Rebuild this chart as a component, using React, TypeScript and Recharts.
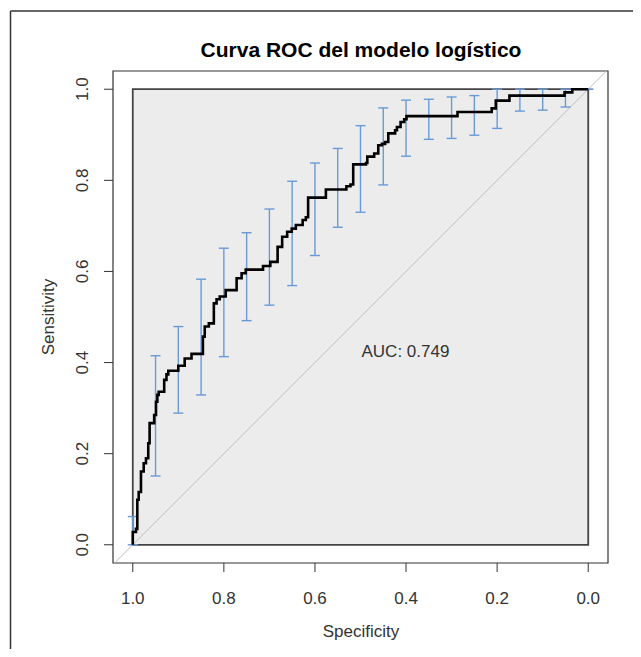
import { ComposedChart, Scatter, XAxis, YAxis, ReferenceArea, ReferenceLine, ErrorBar } from 'recharts';

// ROC curve points (specificity, sensitivity), in threshold order
const specificity = [
  1.0, 1.0, 0.993, 0.993, 0.99, 0.99, 0.987, 0.987, 0.982, 0.982,
  0.976, 0.976, 0.971, 0.971, 0.966, 0.966, 0.963, 0.963, 0.953, 0.953,
  0.949, 0.949, 0.946, 0.946, 0.943, 0.943, 0.931, 0.931, 0.926, 0.926,
  0.922, 0.922, 0.9, 0.9, 0.886, 0.886, 0.871, 0.871, 0.846, 0.846,
  0.842, 0.842, 0.833, 0.833, 0.822, 0.822, 0.816, 0.816, 0.809, 0.809,
  0.796, 0.796, 0.772, 0.772, 0.761, 0.761, 0.752, 0.752, 0.714, 0.714,
  0.698, 0.698, 0.682, 0.682, 0.672, 0.672, 0.661, 0.661, 0.651, 0.651,
  0.642, 0.642, 0.627, 0.627, 0.62, 0.62, 0.615, 0.615, 0.576, 0.576,
  0.531, 0.531, 0.522, 0.522, 0.516, 0.516, 0.488, 0.488, 0.485, 0.485,
  0.47, 0.47, 0.461, 0.461, 0.453, 0.453, 0.446, 0.446, 0.439, 0.439,
  0.424, 0.424, 0.42, 0.42, 0.412, 0.412, 0.404, 0.404, 0.399, 0.399,
  0.287, 0.287, 0.212, 0.212, 0.203, 0.203, 0.173, 0.173, 0.052, 0.052,
  0.035, 0.035, 0.0,
];
const sensitivity = [
  0.0, 0.028, 0.028, 0.035, 0.035, 0.099, 0.099, 0.116, 0.116, 0.161,
  0.161, 0.179, 0.179, 0.19, 0.19, 0.223, 0.223, 0.267, 0.267, 0.285,
  0.285, 0.314, 0.314, 0.329, 0.329, 0.336, 0.336, 0.362, 0.362, 0.374,
  0.374, 0.382, 0.382, 0.393, 0.393, 0.409, 0.409, 0.419, 0.419, 0.457,
  0.457, 0.479, 0.479, 0.486, 0.486, 0.53, 0.53, 0.539, 0.539, 0.545,
  0.545, 0.559, 0.559, 0.585, 0.585, 0.596, 0.596, 0.604, 0.604, 0.612,
  0.612, 0.621, 0.621, 0.654, 0.654, 0.676, 0.676, 0.687, 0.687, 0.694,
  0.694, 0.702, 0.702, 0.713, 0.713, 0.719, 0.719, 0.762, 0.762, 0.78,
  0.78, 0.787, 0.787, 0.791, 0.791, 0.835, 0.835, 0.838, 0.838, 0.852,
  0.852, 0.859, 0.859, 0.877, 0.877, 0.88, 0.88, 0.884, 0.884, 0.903,
  0.903, 0.91, 0.91, 0.917, 0.917, 0.928, 0.928, 0.934, 0.934, 0.941,
  0.941, 0.95, 0.95, 0.958, 0.958, 0.975, 0.975, 0.986, 0.986, 0.993,
  0.993, 1.0, 1.0,
];

// confidence interval of sensitivity at fixed specificities
const ciSpecificity = [1.0, 0.95, 0.9, 0.85, 0.8, 0.75, 0.7, 0.65, 0.6, 0.55, 0.5, 0.45, 0.4, 0.35, 0.3, 0.25, 0.2, 0.15, 0.1, 0.05, 0.0];
const ciLower = [0.0, 0.151, 0.289, 0.329, 0.413, 0.492, 0.526, 0.569, 0.635, 0.697, 0.73, 0.79, 0.853, 0.89, 0.892, 0.899, 0.914, 0.952, 0.954, 0.961, 1.0];
const ciUpper = [0.062, 0.415, 0.479, 0.583, 0.651, 0.685, 0.737, 0.798, 0.838, 0.87, 0.92, 0.959, 0.976, 0.978, 0.983, 0.986, 1.0, 1.0, 1.0, 1.0, 1.0];

const xTicks = [1, 0.8, 0.6, 0.4, 0.2, 0];
const yTicks = [0, 0.2, 0.4, 0.6, 0.8, 1];

const title = 'Curva ROC del modelo logístico';
const xLabel = 'Specificity';
const yLabel = 'Sensitivity';
const aucLabel = 'AUC: 0.749';

const FONT = '"Liberation Sans", Arial, sans-serif';
const CI_COLOR = '#6a9ad6';

const curveData = specificity.map((s, i) => ({ spec: s, sens: sensitivity[i] }));
const ciData = ciSpecificity.map((s, i) => ({ spec: s, sens: ciLower[i], err: [0, ciUpper[i] - ciLower[i]] }));

const X_DOMAIN: [number, number] = [-0.0434, 1.0434];
const Y_DOMAIN: [number, number] = [-0.04, 1.04];

const XTick = (props: any) => (
  <text x={props.x} y={596} textAnchor="middle" fontSize={17} fontFamily={FONT} fill="#333">
    {Number(props.payload.value).toFixed(1)}
  </text>
);

const YTick = (props: any) => (
  <text
    x={80}
    y={props.y}
    transform={`rotate(-90, 80, ${props.y})`}
    textAnchor="middle"
    fontSize={17}
    fontFamily={FONT}
    fill="#333"
  >
    {Number(props.payload.value).toFixed(1)}
  </text>
);

const Empty = () => <g />;

export default function App() {
  return (
    <div style={{ position: 'relative', width: 625, height: 641, background: '#fff' }}>
      <ComposedChart width={625} height={641} margin={{ top: 63, right: 25, bottom: 0, left: 0 }}>
        <XAxis
          type="number"
          dataKey="spec"
          domain={X_DOMAIN}
          reversed
          allowDataOverflow
          ticks={xTicks}
          interval={0}
          height={86}
          tickSize={9}
          tickMargin={0}
          axisLine={false}
          tickLine={{ stroke: '#333' }}
          tick={XTick}
        />
        <YAxis
          type="number"
          dataKey="sens"
          domain={Y_DOMAIN}
          allowDataOverflow
          ticks={yTicks}
          interval={0}
          width={105}
          tickSize={9}
          tickMargin={0}
          axisLine={false}
          tickLine={{ stroke: '#333' }}
          tick={YTick}
        />
        <ReferenceArea
          x1={X_DOMAIN[0]}
          x2={X_DOMAIN[1]}
          y1={Y_DOMAIN[0]}
          y2={Y_DOMAIN[1]}
          fill="#fff"
          fillOpacity={0}
          stroke="#333"
          strokeWidth={1.2}
          ifOverflow="visible"
        />
        <ReferenceArea x1={0} x2={1} y1={0} y2={1} fill="#ececec" fillOpacity={1} stroke="#444" strokeWidth={1.8} ifOverflow="visible" />
        <ReferenceLine
          segment={[{ x: 1.04, y: -0.04 }, { x: -0.04, y: 1.04 }]}
          stroke="#bdbdbd"
          strokeWidth={1}
          ifOverflow="visible"
        />
        <Scatter data={ciData} shape={Empty} isAnimationActive={false}>
          <ErrorBar dataKey="err" direction="y" width={5} stroke={CI_COLOR} strokeWidth={1.4} isAnimationActive={false} />
        </Scatter>
        <Scatter
          data={curveData}
          shape={Empty}
          line={{ stroke: '#000', strokeWidth: 2.6 }}
          lineType="joint"
          isAnimationActive={false}
        />
      </ComposedChart>
      <svg width={625} height={641} style={{ position: 'absolute', left: 0, top: 0, pointerEvents: 'none' }}>
        <line x1={2.5} y1={3} x2={2.5} y2={641} stroke="#333" strokeWidth={1.5} />
        <line x1={2.5} y1={3} x2={625} y2={3} stroke="#333" strokeWidth={1.5} />
        <text x={353} y={49} textAnchor="middle" fontSize={21} fontWeight="bold" fontFamily={FONT} fill="#000">
          {title}
        </text>
        <text x={353} y={629} textAnchor="middle" fontSize={17} fontFamily={FONT} fill="#333">
          {xLabel}
        </text>
        <text x={46} y={309} transform="rotate(-90, 46, 309)" textAnchor="middle" fontSize={17} fontFamily={FONT} fill="#333">
          {yLabel}
        </text>
        <text x={353.5} y={349} textAnchor="start" fontSize={17} fontFamily={FONT} fill="#333">
          {aucLabel}
        </text>
      </svg>
    </div>
  );
}
